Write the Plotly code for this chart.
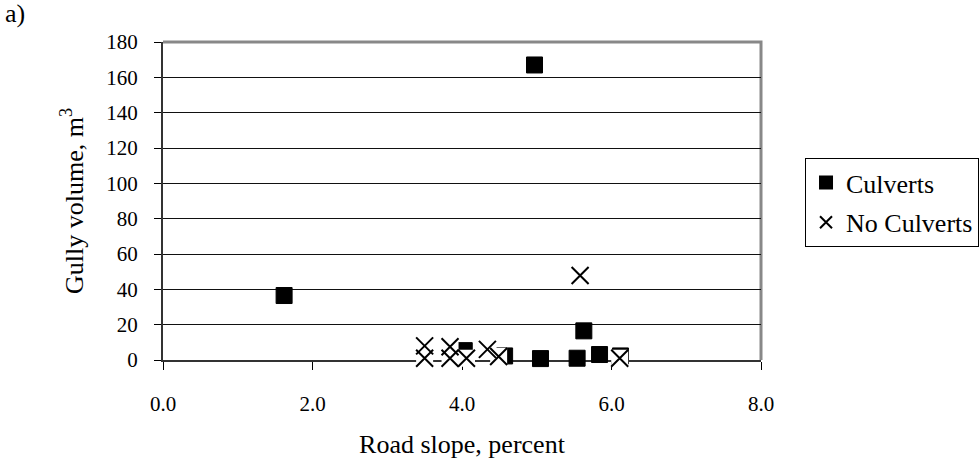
import plotly.graph_objects as go

# Data
culv_x = [1.62, 4.97, 4.03, 4.57, 5.05, 5.54, 5.63, 5.84, 6.12]
culv_y = [36.5, 167.0, 5.3, 2.3, 0.8, 1.0, 16.5, 3.1, 2.3]
nocv_x = [3.50, 3.50, 3.84, 3.84, 4.06, 4.34, 4.49, 5.58, 6.11]
nocv_y = [8.0, 1.0, 7.5, 1.0, 1.0, 6.0, 2.0, 47.8, 1.0]

x_ticks = [0, 2, 4, 6, 8]
x_tick_labels = ["0.0", "2.0", "4.0", "6.0", "8.0"]
y_ticks = [0, 20, 40, 60, 80, 100, 120, 140, 160, 180]

FONT = "Liberation Serif, Times New Roman, serif"
TITLE_FONT = dict(family=FONT, size=26, color="black")
TICK_FONT = dict(family=FONT, size=21, color="black")

fig = go.Figure()
fig.add_trace(go.Scatter(
    x=culv_x, y=culv_y, mode="markers", name="Culverts", legendgroup="a",
    marker=dict(symbol="square", size=16, color="black", line=dict(color="black", width=1)),
    cliponaxis=False,
))
# white background boxes behind the X markers (Excel style)
fig.add_trace(go.Scatter(
    x=nocv_x, y=nocv_y, mode="markers", showlegend=False, hoverinfo="skip", legendgroup="b",
    marker=dict(symbol="square", size=17, color="white", line=dict(width=0)),
    cliponaxis=False,
))
fig.add_trace(go.Scatter(
    x=nocv_x, y=nocv_y, mode="markers", name="No Culverts", legendgroup="b",
    marker=dict(symbol="x-thin", size=17, color="black", line=dict(color="black", width=2)),
    cliponaxis=False,
))

fig.update_layout(
    width=979, height=465,
    margin=dict(l=163, r=218, t=42, b=105, autoexpand=False),
    paper_bgcolor="white", plot_bgcolor="white",
    font=dict(family=FONT, size=20, color="black"),
    showlegend=True,
    legend=dict(
        x=1.0736, y=0.635, xanchor="left", yanchor="top",
        bordercolor="black", borderwidth=1, bgcolor="white",
        font=dict(family=FONT, size=26, color="black"),
        tracegroupgap=3, itemsizing="constant",
    ),
    xaxis=dict(
        range=[0, 8], tickvals=x_ticks, ticktext=x_tick_labels,
        showgrid=False, zeroline=False,
        showline=True, linecolor="#333", linewidth=2,
        ticks="outside", ticklen=8, tickcolor="black", tickwidth=1,
        tickfont=TICK_FONT,
        ticklabelstandoff=16,
        layer="below traces",
    ),
    yaxis=dict(
        range=[0, 180], tickvals=y_ticks,
        showgrid=True, gridcolor="#111", gridwidth=1, zeroline=False,
        showline=True, linecolor="#333", linewidth=2,
        ticks="outside", ticklen=7, tickcolor="black", tickwidth=1,
        tickfont=TICK_FONT,
        ticklabelstandoff=12,
        layer="below traces",
    ),
    shapes=[dict(
        type="path", xref="paper", yref="paper",
        path="M 0 1 L 1 1 L 1 0",
        line=dict(color="#888", width=3), layer="below",
    )],
    annotations=[dict(
        text="a)", xref="paper", yref="paper", x=-0.268, y=1.09,
        xanchor="left", yanchor="middle", showarrow=False,
        font=dict(family=FONT, size=26, color="black"),
    )],
)
fig.update_xaxes(title_text="Road slope, percent", title_font=TITLE_FONT, title_standoff=20)
fig.update_yaxes(title_text="Gully volume, m<sup>3</sup>", title_font=TITLE_FONT, title_standoff=15)

fig.write_html("out.html")
